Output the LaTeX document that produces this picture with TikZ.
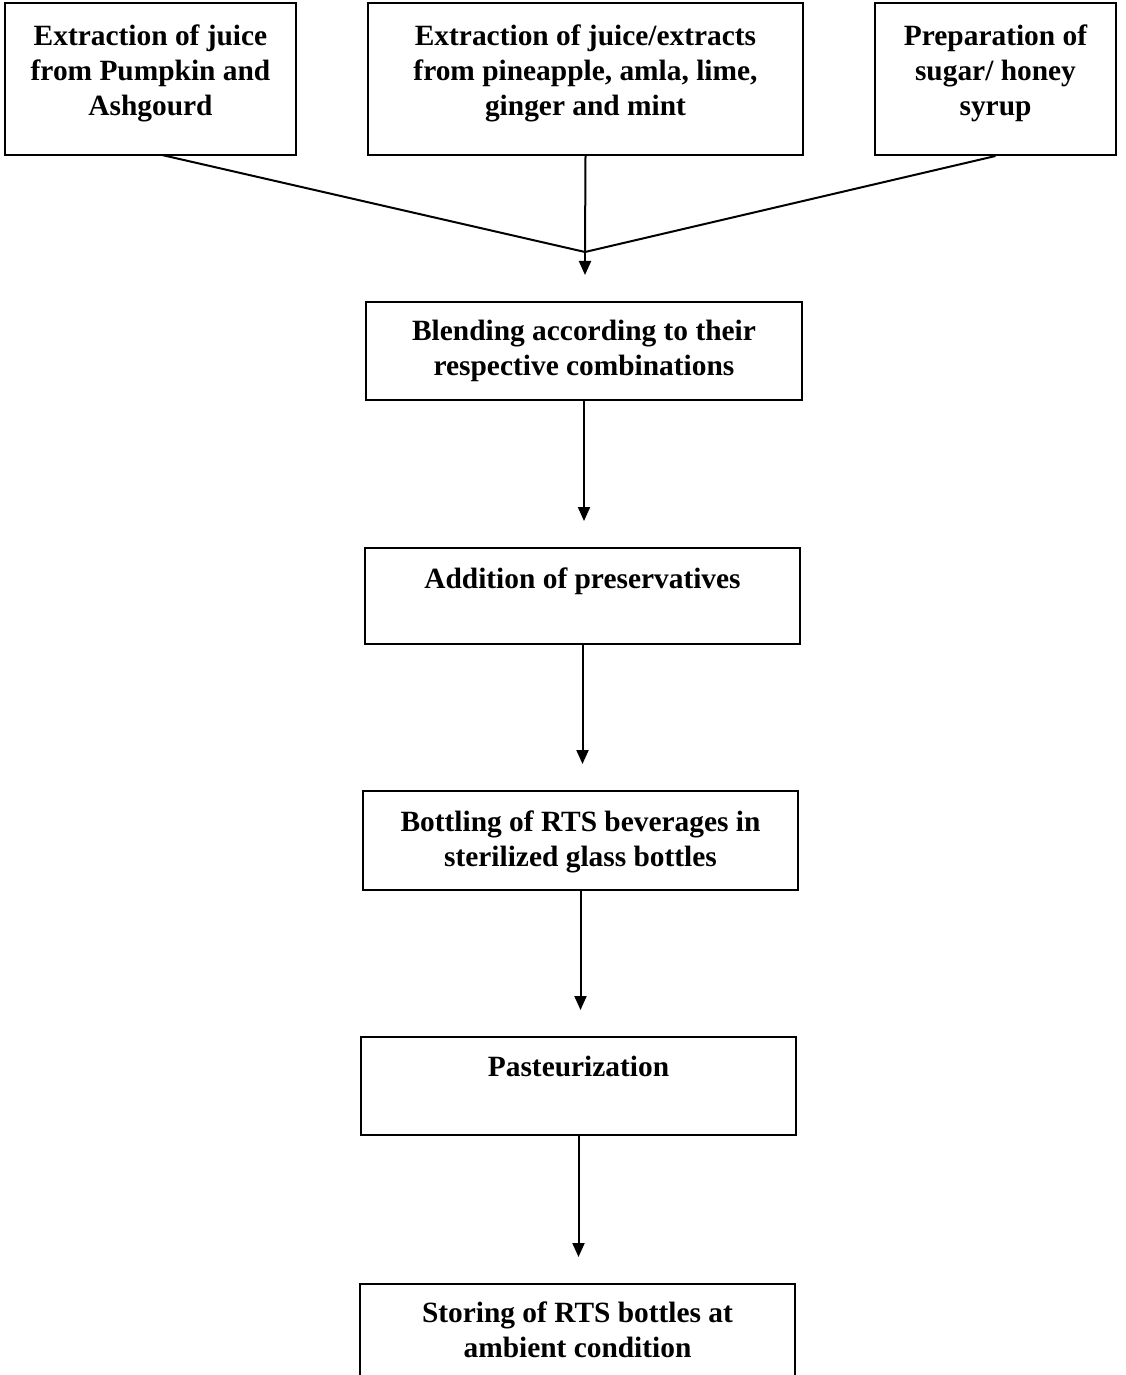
\documentclass[tikz,border=0pt]{standalone}
\usepackage{fontspec}
\setmainfont{Liberation Serif}
\usetikzlibrary{arrows.meta}
\begin{document}
\begin{tikzpicture}[x=0.5pt,y=-0.5pt,
  box/.style={draw=black, line width=1pt, rectangle, inner sep=0pt},
  txt/.style={align=center, inner sep=0pt, anchor=north, font=\bfseries\fontsize{14.7}{17.5}\selectfont},
  link/.style={line width=1pt},
  arr/.style={line width=1pt, -{Triangle[width=6pt,length=7pt]}, shorten >=13pt}]
\useasboundingbox (0,0) rectangle (1125,1375);
\clip (0,0) rectangle (1125,1375);
\fill[white] (0,0) rectangle (1125,1375);

\node[box, minimum width=145.5pt, minimum height=76pt] (b1) at (150.5,79) {};
\node[box, minimum width=217.5pt, minimum height=76pt] (b2) at (585.5,79) {};
\node[box, minimum width=120.5pt, minimum height=76pt] (b3) at (995.5,79) {};
\node[box, minimum width=218pt, minimum height=49pt] (b4) at (584,351) {};
\node[box, minimum width=217.5pt, minimum height=48pt] (b5) at (582.5,596) {};
\node[box, minimum width=217.5pt, minimum height=49.5pt] (b6) at (580.5,840.5) {};
\node[box, minimum width=217.5pt, minimum height=49pt] (b7) at (578.5,1086) {};
\node[box, minimum width=217.5pt, minimum height=49pt] (b8) at (577.5,1333) {};

\node[txt] (t1) at ([yshift=-11pt]b1.north) {Extraction of juice\\from Pumpkin and\\Ashgourd};
\node[txt] (t2) at ([yshift=-11pt]b2.north) {Extraction of juice/extracts\\from pineapple, amla, lime,\\ginger and mint};
\node[txt] (t3) at ([yshift=-11pt]b3.north) {Preparation of\\sugar/ honey\\syrup};
\node[txt] (t4) at ([yshift=-9.5pt]b4.north) {Blending according to their\\respective combinations};
\node[txt] (t5) at ([yshift=-10pt]b5.north) {Addition of preservatives};
\node[txt] (t6) at ([yshift=-10pt]b6.north) {Bottling of RTS beverages in\\sterilized glass bottles};
\node[txt] (t7) at ([yshift=-10pt]b7.north) {Pasteurization};
\node[txt] (t8) at ([yshift=-9pt]b8.north) {Storing of RTS bottles at\\ambient condition};

\coordinate (m) at (585,252);
\coordinate (b1s) at (162,155);
\draw[link] (b1s) -- (m);
\draw[link] (b2.south) -- (m);
\draw[link] (b3.south) -- (m);
\draw[arr] (m) -- (m |- b4.north);
\draw[arr] (b4.south) -- (b4.south |- b5.north);
\draw[arr] (b5.south) -- (b5.south |- b6.north);
\draw[arr] (b6.south) -- (b6.south |- b7.north);
\draw[arr] (b7.south) -- (b7.south |- b8.north);
\end{tikzpicture}
\end{document}
